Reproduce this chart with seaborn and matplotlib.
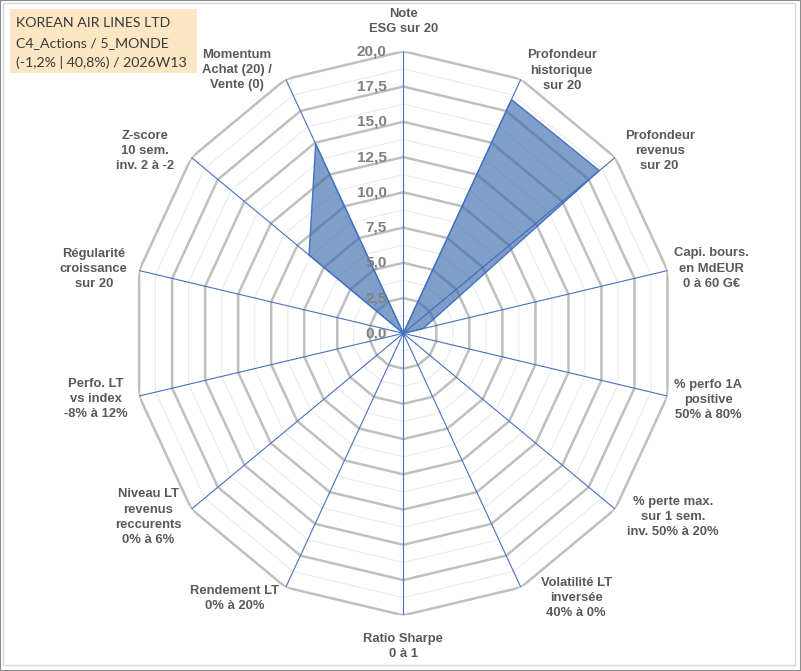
import matplotlib
matplotlib.use('Agg')
import matplotlib.pyplot as plt
from matplotlib.patches import Rectangle
import numpy as np
import pandas as pd
import seaborn as sns

# ---- data ----
categories = [
    "Note\nESG sur 20",
    "Profondeur\nhistorique\nsur 20",
    "Profondeur\nrevenus\nsur 20",
    "Capi. bours.\nen MdEUR\n0 à 60 G€",
    "% perfo 1A\npositive\n50% à 80%",
    "% perte max.\nsur 1 sem.\ninv. 50% à 20%",
    "Volatilité LT\ninversée\n40% à 0%",
    "Ratio Sharpe\n0 à 1",
    "Rendement LT\n0% à 20%",
    "Niveau LT\nrevenus\nreccurents\n0% à 6%",
    "Perfo. LT\nvs index\n-8% à 12%",
    "Régularité\ncroissance\nsur 20",
    "Z-score\n10 sem.\ninv. 2 à -2",
    "Momentum\nAchat (20) /\nVente (0)",
]
scores = [0.0, 18.4, 18.5, 1.5, 0.0, 0.0, 0.0, 0.0, 0.0, 0.0, 0.0, 0.0, 8.9, 14.9]
tick_values = [0.0, 2.5, 5.0, 7.5, 10.0, 12.5, 15.0, 17.5, 20.0]
tick_labels = ["0,0", "2,5", "5,0", "7,5", "10,0", "12,5", "15,0", "17,5", "20,0"]
title_lines = ["KOREAN AIR LINES LTD", "C4_Actions / 5_MONDE", "(-1,2% | 40,8%) / 2026W13"]

# ---- layout: label centres as (angle in degrees, radius in score units) ----
label_pos = [(0, 22.1), (32.1, 22.0), (55.7, 22.9), (78.6, 23.2), (101.9, 23.0),
             (123.2, 23.8), (145.8, 22.7), (180, 22.2), (213.5, 22.55), (235.3, 22.9),
             (258.4, 23.15), (281.3, 23.3), (304.1, 23.05), (326.6, 22.35)]

sns.set_style("white")
plt.rcParams['font.family'] = ['Liberation Sans', 'DejaVu Sans']

W, H = 801, 671
fig = plt.figure(figsize=(W / 100, H / 100), dpi=100)
cx, cy, rx, ry = 403.3, 333.3, 271, 282
ax = fig.add_axes([(cx - rx) / W, (H - cy - ry) / H, 2 * rx / W, 2 * ry / H], projection='polar')
ax.set_aspect('auto')
ax.set_theta_zero_location('N')
ax.set_theta_direction(-1)
ax.set_ylim(0, 20)
ax.grid(False)
ax.spines['polar'].set_visible(False)
ax.set_xticks([])
ax.set_yticks([])
ax.patch.set_alpha(0)

n = len(categories)
angles = np.linspace(0, 2 * np.pi, n, endpoint=False)
closed = np.append(angles, angles[0])

# polygon grid: light minor rings and grey major rings
for lvl in np.arange(1.25, 20, 2.5):
    ax.plot(closed, [lvl] * (n + 1), color='#EBEBEB', lw=0.8, zorder=1)
for lvl in tick_values[1:]:
    ax.plot(closed, [lvl] * (n + 1), color='#BFBFBF', lw=1.8, zorder=2)
for a in angles:
    ax.plot([a, a], [0, 20], color='#4472C4', lw=0.8, zorder=3)

df = pd.DataFrame({'theta': closed, 'score': scores + [scores[0]]})
ax.fill(df['theta'], df['score'], color='#3A6BAE', alpha=0.65, lw=0, zorder=4)
sns.lineplot(data=df, x='theta', y='score', sort=False, estimator=None, ax=ax,
             color='#4472C4', lw=1.0, zorder=5)
ax.set_xlabel('')
ax.set_ylabel('')

for v, lab in zip(tick_values, tick_labels):
    ax.annotate(lab, xy=(0, v), xytext=(-12, 0), textcoords='offset points',
                ha='right', va='center', fontsize=11, fontweight='bold',
                color='#808080', zorder=6)

for lab, (t, r) in zip(categories, label_pos):
    ax.text(np.deg2rad(t), r, lab, ha='center', va='center', fontsize=9.4,
            fontweight='bold', color='#595959', linespacing=1.35, zorder=6)

# title box
fig.add_artist(Rectangle((10 / W, 1 - 73 / H), 187 / W, 64 / H, transform=fig.transFigure,
                         facecolor='#FDE6C3', edgecolor='none', zorder=0))
for i, line in enumerate(title_lines):
    fig.text(16 / W, 1 - (26.7 + 20 * i) / H, line, ha='left', va='baseline',
             fontsize=10.2, color='#3A3A3A', family=['Lato', 'DejaVu Sans'])

# frame
fig.add_artist(Rectangle((3 / W, 6 / H), 792 / W, 662 / H, transform=fig.transFigure,
                         fill=False, edgecolor='#D9D9D9', lw=1))
fig.add_artist(Rectangle((0, 0), 1, 1, transform=fig.transFigure,
                         fill=False, edgecolor='#8C8C8C', lw=1.5))

fig.savefig('out.png', dpi=100)
